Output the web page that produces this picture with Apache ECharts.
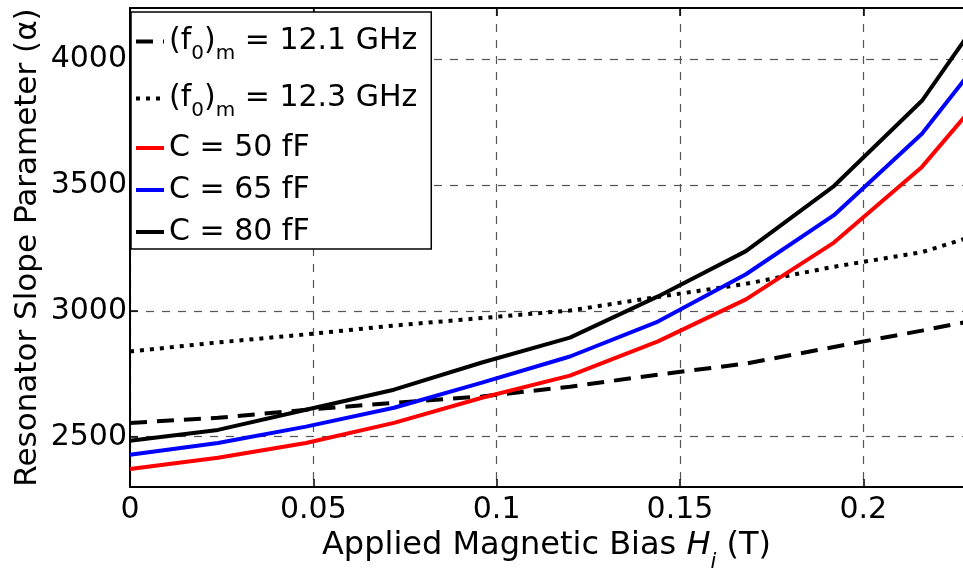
<!DOCTYPE html>
<html>
<head>
<meta charset="utf-8">
<script src="https://cdn.jsdelivr.net/npm/echarts@6/dist/echarts.min.js"></script>
<style>
html,body{margin:0;padding:0;background:#fff;}
#chart{width:963px;height:571px;}
</style>
</head>
<body>
<div id="chart"></div>
<script>
// ---- data ----
const biasT = [0, 0.024, 0.048, 0.072, 0.096, 0.12, 0.144, 0.168, 0.192, 0.216, 0.24];
const f0m121 = [2555, 2575, 2607, 2635, 2660, 2699, 2747, 2791, 2857, 2922, 2990];
const f0m123 = [2839, 2875, 2907, 2942, 2972, 3002, 3056, 3108, 3176, 3234, 3343];
const c50 = [2372, 2416, 2475, 2555, 2655, 2743, 2879, 3046, 3272, 3573, 3985];
const c65 = [2428, 2475, 2540, 2615, 2715, 2819, 2958, 3146, 3381, 3705, 4150];
const c80 = [2484, 2527, 2607, 2687, 2795, 2894, 3058, 3238, 3497, 3836, 4335];
const xTicks = [0, 0.05, 0.1, 0.15, 0.2];
const yTicks = [2500, 3000, 3500, 4000];
const names = ['(f0)m = 12.1 GHz', '(f0)m = 12.3 GHz', 'C = 50 fF', 'C = 65 fF', 'C = 80 fF'];

const FONT = 'DejaVu Sans';
const pts = arr => biasT.map((x, i) => [x, arr[i]]);

const chart = echarts.init(document.getElementById('chart'), null, {renderer: 'canvas'});

function mk(name, arr, color, type) {
  return {
    name: name, type: 'line', data: pts(arr), showSymbol: false, symbol: 'none',
    clip: true, animation: false,
    lineStyle: {color: color, width: 4, type: type, cap: 'butt'},
    itemStyle: {color: color}
  };
}

const axisTxt = {fontFamily: FONT, fontSize: 30, color: '#000'};
const gridLine = {show: true, lineStyle: {color: '#555', width: 1.2, type: [8, 8]}};

const option = {
  backgroundColor: '#fff',
  animation: false,
  grid: {left: 130, right: 0, top: 8, bottom: 84, containLabel: false, outerBoundsMode: 'none'},
  xAxis: [{
    type: 'value', min: 0, max: 0.2272, position: 'bottom',
    axisLine: {show: true, onZero: false, lineStyle: {color: '#000', width: 2}},
    axisTick: {show: true, inside: true, length: 8, customValues: xTicks, lineStyle: {color: '#000', width: 1.5}},
    axisLabel: Object.assign({customValues: xTicks, margin: 8, formatter: v => String(+(+v).toFixed(2))}, axisTxt),
    splitLine: gridLine,
    name: '{n|Applied Magnetic Bias }{it|H}{sub|i}{n| (T)}',
    nameLocation: 'middle', nameGap: 43, nameMoveOverlap: false,
    nameTextStyle: {
      fontFamily: FONT, fontSize: 32, color: '#000',
      rich: {
        n: {fontFamily: FONT, fontSize: 32, color: '#000'},
        it: {fontFamily: FONT, fontSize: 32, fontStyle: 'italic', color: '#000'},
        sub: {fontFamily: FONT, fontSize: 21, fontStyle: 'italic', color: '#000', lineHeight: 21, padding: [34, 0, 0, 0]}
      }
    }
  }, {
    type: 'value', min: 0, max: 0.2272, position: 'top',
    axisLine: {show: true, onZero: false, lineStyle: {color: '#000', width: 2}},
    axisTick: {show: true, inside: true, length: 8, customValues: xTicks, lineStyle: {color: '#000', width: 1.5}},
    axisLabel: {show: false},
    splitLine: {show: false}
  }],
  yAxis: {
    type: 'value', min: 2300, max: 4205,
    axisLine: {show: true, onZero: false, lineStyle: {color: '#000', width: 2}},
    axisTick: {show: true, inside: true, length: 8, customValues: yTicks, lineStyle: {color: '#000', width: 1.5}},
    axisLabel: Object.assign({customValues: yTicks, margin: 3, formatter: v => String(v)}, axisTxt),
    splitLine: gridLine,
    name: 'Resonator Slope Parameter (α)',
    nameLocation: 'middle', nameGap: 87, nameMoveOverlap: false,
    nameTextStyle: {fontFamily: FONT, fontSize: 31, color: '#000'}
  },
  legend: {
    orient: 'vertical', left: 131, top: 12,
    itemWidth: 28, itemHeight: 14, itemGap: 12,
    backgroundColor: '#fff', borderColor: '#000', borderWidth: 1.5, borderRadius: 0,
    padding: [7, 14, 2, 3],
    itemStyle: {color: 'rgba(0,0,0,0)', borderWidth: 0, opacity: 0},
    lineStyle: {width: 4},
    data: names,
    textStyle: {
      fontFamily: FONT, fontSize: 30, color: '#000',
      rich: {
        n: {fontFamily: FONT, fontSize: 30, color: '#000'},
        s: {fontFamily: FONT, fontSize: 20, color: '#000', lineHeight: 20, padding: [25, 0, 0, 0]}
      }
    },
    formatter: function (name) {
      if (name.indexOf('(f0)m') === 0) {
        return '{n|(f}{s|0}{n|)}{s|m}{n|' + name.slice(5) + '}';
      }
      return '{n|' + name + '}';
    }
  },
  series: [
    mk(names[0], f0m121, '#000', [17, 10]),
    mk(names[1], f0m123, '#000', [4, 6]),
    mk(names[2], c50, '#ff0000', 'solid'),
    mk(names[3], c65, '#0000ff', 'solid'),
    mk(names[4], c80, '#000', 'solid')
  ]
};
chart.setOption(option);
</script>
</body>
</html>
